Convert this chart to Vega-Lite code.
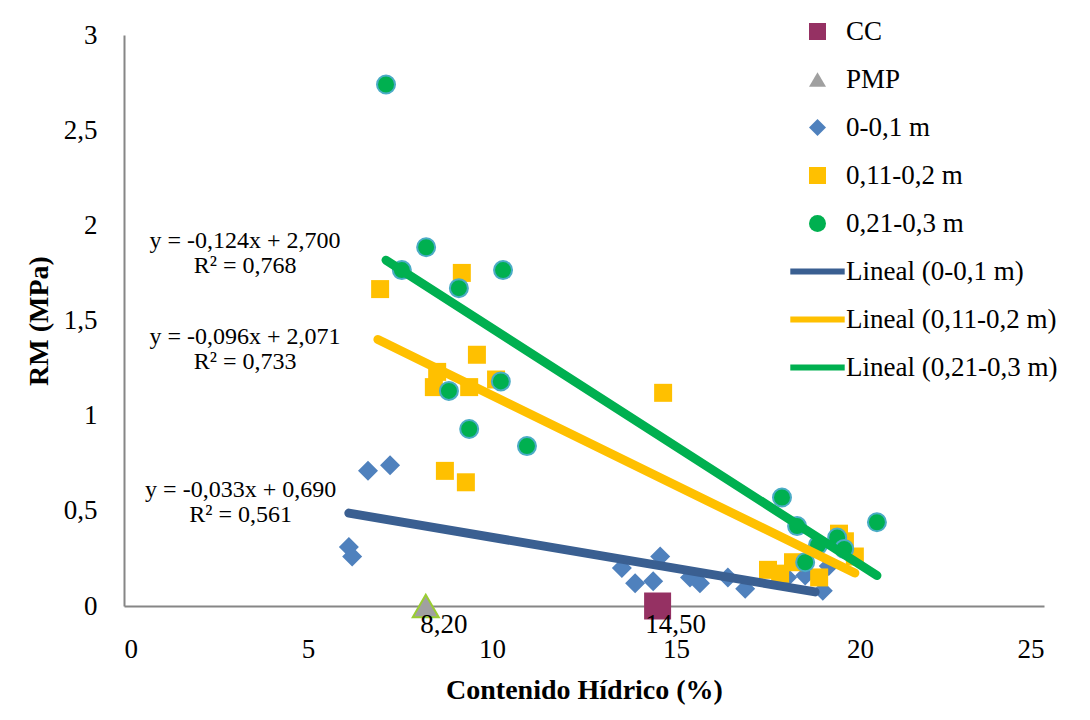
{
  "$schema": "https://vega.github.io/schema/vega-lite/v6.json",
  "autosize": {"type": "none"},
  "width": 920,
  "height": 571,
  "padding": {"left": 124, "top": 35, "right": 46, "bottom": 114},
  "background": "white",
  "config": {
    "view": {"stroke": null},
    "font": "Liberation Serif",
    "axis": {"grid": false, "ticks": false, "domainColor": "#868686", "domainWidth": 2, "labelFont": "Liberation Serif", "labelFontSize": 27, "labelColor": "black", "titleFont": "Liberation Serif", "titleFontSize": 28, "titleFontWeight": "bold", "titleColor": "black"},
    "legend": {"labelFont": "Liberation Serif", "labelFontSize": 27, "labelColor": "black", "labelLimit": 400}
  },
  "datasets": {
    "pts": [
      {"serie": "0-0,1 m", "x": 6.11, "y": 0.31},
      {"serie": "0-0,1 m", "x": 6.20, "y": 0.26},
      {"serie": "0-0,1 m", "x": 6.63, "y": 0.71},
      {"serie": "0-0,1 m", "x": 7.23, "y": 0.74},
      {"serie": "0-0,1 m", "x": 13.53, "y": 0.20},
      {"serie": "0-0,1 m", "x": 13.89, "y": 0.12},
      {"serie": "0-0,1 m", "x": 14.38, "y": 0.13},
      {"serie": "0-0,1 m", "x": 14.57, "y": 0.26},
      {"serie": "0-0,1 m", "x": 15.38, "y": 0.15},
      {"serie": "0-0,1 m", "x": 15.65, "y": 0.12},
      {"serie": "0-0,1 m", "x": 16.41, "y": 0.15},
      {"serie": "0-0,1 m", "x": 16.88, "y": 0.09},
      {"serie": "0-0,1 m", "x": 18.02, "y": 0.15},
      {"serie": "0-0,1 m", "x": 18.51, "y": 0.16},
      {"serie": "0-0,1 m", "x": 18.99, "y": 0.08},
      {"serie": "0-0,1 m", "x": 19.15, "y": 0.21},
      {"serie": "0,11-0,2 m", "x": 6.96, "y": 1.665},
      {"serie": "0,11-0,2 m", "x": 9.18, "y": 1.75},
      {"serie": "0,11-0,2 m", "x": 8.51, "y": 1.23},
      {"serie": "0,11-0,2 m", "x": 8.42, "y": 1.15},
      {"serie": "0,11-0,2 m", "x": 9.59, "y": 1.32},
      {"serie": "0,11-0,2 m", "x": 9.38, "y": 1.15},
      {"serie": "0,11-0,2 m", "x": 10.11, "y": 1.19},
      {"serie": "0,11-0,2 m", "x": 8.72, "y": 0.71},
      {"serie": "0,11-0,2 m", "x": 9.29, "y": 0.65},
      {"serie": "0,11-0,2 m", "x": 14.65, "y": 1.12},
      {"serie": "0,11-0,2 m", "x": 17.50, "y": 0.19},
      {"serie": "0,11-0,2 m", "x": 17.83, "y": 0.17},
      {"serie": "0,11-0,2 m", "x": 18.18, "y": 0.23},
      {"serie": "0,11-0,2 m", "x": 18.89, "y": 0.15},
      {"serie": "0,11-0,2 m", "x": 19.43, "y": 0.38},
      {"serie": "0,11-0,2 m", "x": 19.59, "y": 0.34},
      {"serie": "0,11-0,2 m", "x": 19.86, "y": 0.26},
      {"serie": "0,21-0,3 m", "x": 7.12, "y": 2.74},
      {"serie": "0,21-0,3 m", "x": 8.21, "y": 1.885},
      {"serie": "0,21-0,3 m", "x": 7.55, "y": 1.765},
      {"serie": "0,21-0,3 m", "x": 9.10, "y": 1.67},
      {"serie": "0,21-0,3 m", "x": 10.30, "y": 1.765},
      {"serie": "0,21-0,3 m", "x": 8.83, "y": 1.13},
      {"serie": "0,21-0,3 m", "x": 10.24, "y": 1.18},
      {"serie": "0,21-0,3 m", "x": 9.38, "y": 0.93},
      {"serie": "0,21-0,3 m", "x": 10.95, "y": 0.84},
      {"serie": "0,21-0,3 m", "x": 17.88, "y": 0.57},
      {"serie": "0,21-0,3 m", "x": 18.29, "y": 0.42},
      {"serie": "0,21-0,3 m", "x": 18.51, "y": 0.23},
      {"serie": "0,21-0,3 m", "x": 18.86, "y": 0.32},
      {"serie": "0,21-0,3 m", "x": 19.38, "y": 0.36},
      {"serie": "0,21-0,3 m", "x": 19.57, "y": 0.30},
      {"serie": "0,21-0,3 m", "x": 20.46, "y": 0.44},
      {"serie": "CC", "x": 14.5, "y": 0, "label": "14,50"},
      {"serie": "PMP", "x": 8.2, "y": 0, "label": "8,20"}
    ],
    "trend": [
      {"serie": "Lineal (0-0,1 m)", "x": 6.11, "y": 0.488},
      {"serie": "Lineal (0-0,1 m)", "x": 18.78, "y": 0.074},
      {"serie": "Lineal (0,11-0,2 m)", "x": 6.90, "y": 1.40},
      {"serie": "Lineal (0,11-0,2 m)", "x": 19.86, "y": 0.173},
      {"serie": "Lineal (0,21-0,3 m)", "x": 7.12, "y": 1.817},
      {"serie": "Lineal (0,21-0,3 m)", "x": 20.46, "y": 0.16}
    ],
    "eq": [
      {"x": 3.29, "y": 1.88, "t": "y = -0,124x + 2,700\nR² = 0,768"},
      {"x": 3.29, "y": 1.376, "t": "y = -0,096x + 2,071\nR² = 0,733"},
      {"x": 3.17, "y": 0.572, "t": "y = -0,033x + 0,690\nR² = 0,561"}
    ]
  },
  "layer": [
    {
      "data": {"name": "pts"},
      "mark": {"type": "point", "filled": true, "opacity": 1, "strokeWidth": 2},
      "encoding": {
        "x": {"field": "x", "type": "quantitative", "scale": {"domain": [0, 25], "nice": false}, "axis": {"values": [0, 5, 10, 15, 20, 25], "title": "Contenido Hídrico (%)", "labelFont": "Liberation Serif", "labelFontSize": 27, "labelPadding": 30, "titlePadding": 14}},
        "y": {"field": "y", "type": "quantitative", "scale": {"domain": [0, 3], "nice": false}, "axis": {"values": [0, 0.5, 1, 1.5, 2, 2.5, 3], "labelExpr": "replace(format(datum.value, '~g'), '.', ',')", "title": "RM (MPa)", "labelFont": "Liberation Serif", "labelFontSize": 27, "labelPadding": 27, "titlePadding": 10}},
        "color": {
          "field": "serie", "type": "nominal",
          "scale": {
            "domain": ["CC", "PMP", "0-0,1 m", "0,11-0,2 m", "0,21-0,3 m", "Lineal (0-0,1 m)", "Lineal (0,11-0,2 m)", "Lineal (0,21-0,3 m)"],
            "range": ["#953163", "#a0a0a0", "#4f81bd", "#ffc000", "#00b050", "#3a5f91", "#ffc000", "#00b050"]
          },
          "legend": {
            "orient": "none", "legendX": 680, "legendY": -17, "title": null,
            "labelFont": "Liberation Serif", "labelFontSize": 27, "labelColor": "black", "labelLimit": 400,
            "symbolSize": 289, "symbolStrokeWidth": 0, "rowPadding": 20, "labelOffset": 15
          }
        },
        "shape": {
          "field": "serie", "type": "nominal",
          "scale": {
            "domain": ["CC", "PMP", "0-0,1 m", "0,11-0,2 m", "0,21-0,3 m", "Lineal (0-0,1 m)", "Lineal (0,11-0,2 m)", "Lineal (0,21-0,3 m)"],
            "range": ["square", "triangle-up", "diamond", "square", "circle", "M-3.2,-0.36H3.2V0.36H-3.2Z", "M-3.2,-0.36H3.2V0.36H-3.2Z", "M-3.2,-0.36H3.2V0.36H-3.2Z"]
          },
          "legend": {
            "orient": "none", "legendX": 680, "legendY": -17, "title": null,
            "labelFont": "Liberation Serif", "labelFontSize": 27, "labelColor": "black", "labelLimit": 400,
            "symbolSize": 289, "symbolStrokeWidth": 0, "rowPadding": 20, "labelOffset": 15
          }
        },
        "size": {
          "condition": [
            {"test": "datum.serie == 'CC'", "value": 729},
            {"test": "datum.serie == 'PMP'", "value": 676},
            {"test": "datum.serie == '0-0,1 m'", "value": 400}
          ],
          "value": 324
        },
        "stroke": {
          "condition": [
            {"test": "datum.serie == '0,21-0,3 m'", "value": "#4bacc6"},
            {"test": "datum.serie == 'PMP'", "value": "#9acd32"}
          ],
          "value": "transparent"
        }
      }
    },
    {
      "data": {"name": "trend"},
      "mark": {"type": "line", "strokeWidth": 9, "strokeCap": "round"},
      "encoding": {
        "x": {"field": "x", "type": "quantitative"},
        "y": {"field": "y", "type": "quantitative"},
        "color": {"field": "serie", "type": "nominal", "legend": null}
      }
    },
    {
      "data": {"name": "pts"},
      "transform": [{"filter": "isValid(datum.label)"}],
      "mark": {"type": "text", "align": "center", "baseline": "alphabetic", "dx": 18, "dy": 27, "fontSize": 27, "font": "Liberation Serif", "color": "black"},
      "encoding": {
        "x": {"field": "x", "type": "quantitative"},
        "y": {"field": "y", "type": "quantitative"},
        "text": {"field": "label"}
      }
    },
    {
      "data": {"name": "eq"},
      "mark": {"type": "text", "align": "center", "baseline": "alphabetic", "fontSize": 24, "font": "Liberation Serif", "color": "black", "lineBreak": "\n", "lineHeight": 25},
      "encoding": {
        "x": {"field": "x", "type": "quantitative"},
        "y": {"field": "y", "type": "quantitative"},
        "text": {"field": "t"}
      }
    }
  ]
}
